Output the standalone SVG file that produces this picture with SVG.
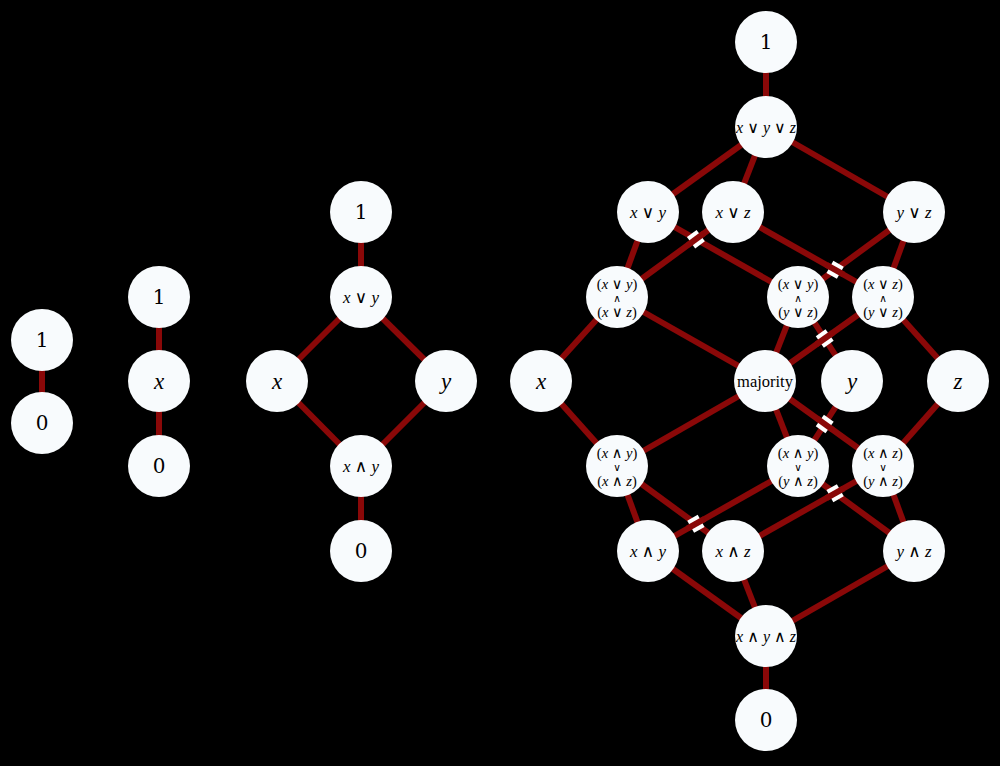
<svg xmlns="http://www.w3.org/2000/svg" width="1000" height="766" viewBox="0 0 1000 766">
<style>
.e line{stroke:#8a0808;stroke-width:6}
.n circle{fill:#f8fbfd}
.t{font-family:"Liberation Serif","DejaVu Serif",serif;fill:#000;text-anchor:middle;dominant-baseline:central}
.big{font-family:"DejaVu Serif",serif;font-size:20px}
.v{font-size:23px;font-style:italic}
.m{font-size:17px}
.m3{font-size:16px}
.s{font-size:14.5px}
.i{font-style:italic}
.o{font-family:"DejaVu Sans",sans-serif;font-style:normal}
.so{font-family:"DejaVu Sans",sans-serif;font-size:10.5px}
.w{stroke:#fff;stroke-width:14}
.r{stroke:#8a0808;stroke-width:6}
</style>
<rect width="1000" height="766" fill="#000"/>
<g class="e" id="connectors">
<line x1="42" y1="340" x2="42" y2="423"/>
<line x1="159" y1="297" x2="159" y2="381"/>
<line x1="159" y1="381" x2="159" y2="466"/>
<line x1="361" y1="212" x2="361" y2="297"/>
<line x1="361" y1="297" x2="277" y2="381"/>
<line x1="361" y1="297" x2="446" y2="381"/>
<line x1="277" y1="381" x2="361" y2="466"/>
<line x1="446" y1="381" x2="361" y2="466"/>
<line x1="361" y1="466" x2="361" y2="551"/>
<line x1="766" y1="42" x2="766" y2="127"/>
<line x1="766" y1="127" x2="648" y2="212"/>
<line x1="766" y1="127" x2="733" y2="212"/>
<line x1="766" y1="127" x2="914" y2="212"/>
<line x1="648" y1="212" x2="617" y2="297"/>
<line x1="648" y1="212" x2="798" y2="297"/>
<line x1="733" y1="212" x2="617" y2="297"/>
<line x1="733" y1="212" x2="883" y2="297"/>
<line x1="914" y1="212" x2="798" y2="297"/>
<line x1="914" y1="212" x2="883" y2="297"/>
<line x1="617" y1="297" x2="541" y2="381"/>
<line x1="617" y1="297" x2="765" y2="381"/>
<line x1="798" y1="297" x2="765" y2="381"/>
<line x1="798" y1="297" x2="852" y2="381"/>
<line x1="883" y1="297" x2="765" y2="381"/>
<line x1="883" y1="297" x2="958" y2="381"/>
<line x1="541" y1="381" x2="617" y2="466"/>
<line x1="765" y1="381" x2="617" y2="466"/>
<line x1="765" y1="381" x2="798" y2="466"/>
<line x1="765" y1="381" x2="883" y2="466"/>
<line x1="852" y1="381" x2="798" y2="466"/>
<line x1="958" y1="381" x2="883" y2="466"/>
<line x1="617" y1="466" x2="648" y2="551"/>
<line x1="617" y1="466" x2="733" y2="551"/>
<line x1="798" y1="466" x2="648" y2="551"/>
<line x1="798" y1="466" x2="914" y2="551"/>
<line x1="883" y1="466" x2="733" y2="551"/>
<line x1="883" y1="466" x2="914" y2="551"/>
<line x1="648" y1="551" x2="766" y2="636"/>
<line x1="733" y1="551" x2="766" y2="636"/>
<line x1="914" y1="551" x2="766" y2="636"/>
<line x1="766" y1="636" x2="766" y2="720"/>
</g>
<g id="crossings">
<g transform="translate(695.9,239.2) rotate(-36.2)"><line class="w" x1="-6" x2="6"/><line class="r" x1="-10" x2="10"/></g>
<g transform="translate(835.1,269.8) rotate(29.5)"><line class="w" x1="-6" x2="6"/><line class="r" x1="-10" x2="10"/></g>
<g transform="translate(824.7,338.5) rotate(-35.4)"><line class="w" x1="-6" x2="6"/><line class="r" x1="-10" x2="10"/></g>
<g transform="translate(824.7,424) rotate(35.8)"><line class="w" x1="-6" x2="6"/><line class="r" x1="-10" x2="10"/></g>
<g transform="translate(695.9,523.8) rotate(-29.5)"><line class="w" x1="-6" x2="6"/><line class="r" x1="-10" x2="10"/></g>
<g transform="translate(835.1,493.2) rotate(-29.5)"><line class="w" x1="-6" x2="6"/><line class="r" x1="-10" x2="10"/></g>
</g>
<g class="n">
<g id="a1"><circle cx="42" cy="340" r="31"/><text class="t big" x="42" y="340">1</text></g>
<g id="a0"><circle cx="42" cy="423" r="31"/><text class="t big" x="42" y="423">0</text></g>
<g id="b1"><circle cx="159" cy="297" r="31"/><text class="t big" x="159" y="297">1</text></g>
<g id="bx"><circle cx="159" cy="381" r="31"/><text class="t v" x="159" y="381">x</text></g>
<g id="b0"><circle cx="159" cy="466" r="31"/><text class="t big" x="159" y="466">0</text></g>
<g id="c1"><circle cx="361" cy="212" r="31"/><text class="t big" x="361" y="212">1</text></g>
<g id="cxory"><circle cx="361" cy="297" r="31"/><text class="t m" x="361" y="297"><tspan class="i">x</tspan> <tspan class="o">∨</tspan> <tspan class="i">y</tspan></text></g>
<g id="cx"><circle cx="277" cy="381" r="31"/><text class="t v" x="277" y="381">x</text></g>
<g id="cy"><circle cx="446" cy="381" r="31"/><text class="t v" x="446" y="381">y</text></g>
<g id="cxandy"><circle cx="361" cy="466" r="31"/><text class="t m" x="361" y="466"><tspan class="i">x</tspan> <tspan class="o">∧</tspan> <tspan class="i">y</tspan></text></g>
<g id="c0"><circle cx="361" cy="551" r="31"/><text class="t big" x="361" y="551">0</text></g>
<g id="d1"><circle cx="766" cy="42" r="31"/><text class="t big" x="766" y="42">1</text></g>
<g id="dxyz_or"><circle cx="766" cy="127" r="31"/><text class="t m3" x="766" y="127"><tspan class="i">x</tspan> <tspan class="o">∨</tspan> <tspan class="i">y</tspan> <tspan class="o">∨</tspan> <tspan class="i">z</tspan></text></g>
<g id="dxory"><circle cx="648" cy="212" r="31"/><text class="t m" x="648" y="212"><tspan class="i">x</tspan> <tspan class="o">∨</tspan> <tspan class="i">y</tspan></text></g>
<g id="dxorz"><circle cx="733" cy="212" r="31"/><text class="t m" x="733" y="212"><tspan class="i">x</tspan> <tspan class="o">∨</tspan> <tspan class="i">z</tspan></text></g>
<g id="dyorz"><circle cx="914" cy="212" r="31"/><text class="t m" x="914" y="212"><tspan class="i">y</tspan> <tspan class="o">∨</tspan> <tspan class="i">z</tspan></text></g>
<g id="dm1"><circle cx="617" cy="297" r="31"/><text class="t s" x="617" y="283.5">(<tspan class="i">x</tspan> <tspan class="o">∨</tspan> <tspan class="i">y</tspan>)</text><text class="t so" x="617" y="297.5">∧</text><text class="t s" x="617" y="311.5">(<tspan class="i">x</tspan> <tspan class="o">∨</tspan> <tspan class="i">z</tspan>)</text></g>
<g id="dm2"><circle cx="798" cy="297" r="31"/><text class="t s" x="798" y="283.5">(<tspan class="i">x</tspan> <tspan class="o">∨</tspan> <tspan class="i">y</tspan>)</text><text class="t so" x="798" y="297.5">∧</text><text class="t s" x="798" y="311.5">(<tspan class="i">y</tspan> <tspan class="o">∨</tspan> <tspan class="i">z</tspan>)</text></g>
<g id="dm3"><circle cx="883" cy="297" r="31"/><text class="t s" x="883" y="283.5">(<tspan class="i">x</tspan> <tspan class="o">∨</tspan> <tspan class="i">z</tspan>)</text><text class="t so" x="883" y="297.5">∧</text><text class="t s" x="883" y="311.5">(<tspan class="i">y</tspan> <tspan class="o">∨</tspan> <tspan class="i">z</tspan>)</text></g>
<g id="dx"><circle cx="541" cy="381" r="31"/><text class="t v" x="541" y="381">x</text></g>
<g id="dmaj"><circle cx="765" cy="381" r="31"/><text class="t" x="765" y="381" font-size="16.5">majority</text></g>
<g id="dy"><circle cx="852" cy="381" r="31"/><text class="t v" x="852" y="381">y</text></g>
<g id="dz"><circle cx="958" cy="381" r="31"/><text class="t v" x="958" y="381">z</text></g>
<g id="dj1"><circle cx="617" cy="466" r="31"/><text class="t s" x="617" y="452.5">(<tspan class="i">x</tspan> <tspan class="o">∧</tspan> <tspan class="i">y</tspan>)</text><text class="t so" x="617" y="466.5">∨</text><text class="t s" x="617" y="480.5">(<tspan class="i">x</tspan> <tspan class="o">∧</tspan> <tspan class="i">z</tspan>)</text></g>
<g id="dj2"><circle cx="798" cy="466" r="31"/><text class="t s" x="798" y="452.5">(<tspan class="i">x</tspan> <tspan class="o">∧</tspan> <tspan class="i">y</tspan>)</text><text class="t so" x="798" y="466.5">∨</text><text class="t s" x="798" y="480.5">(<tspan class="i">y</tspan> <tspan class="o">∧</tspan> <tspan class="i">z</tspan>)</text></g>
<g id="dj3"><circle cx="883" cy="466" r="31"/><text class="t s" x="883" y="452.5">(<tspan class="i">x</tspan> <tspan class="o">∧</tspan> <tspan class="i">z</tspan>)</text><text class="t so" x="883" y="466.5">∨</text><text class="t s" x="883" y="480.5">(<tspan class="i">y</tspan> <tspan class="o">∧</tspan> <tspan class="i">z</tspan>)</text></g>
<g id="dxandy"><circle cx="648" cy="551" r="31"/><text class="t m" x="648" y="551"><tspan class="i">x</tspan> <tspan class="o">∧</tspan> <tspan class="i">y</tspan></text></g>
<g id="dxandz"><circle cx="733" cy="551" r="31"/><text class="t m" x="733" y="551"><tspan class="i">x</tspan> <tspan class="o">∧</tspan> <tspan class="i">z</tspan></text></g>
<g id="dyandz"><circle cx="914" cy="551" r="31"/><text class="t m" x="914" y="551"><tspan class="i">y</tspan> <tspan class="o">∧</tspan> <tspan class="i">z</tspan></text></g>
<g id="dxyz_and"><circle cx="766" cy="636" r="31"/><text class="t m3" x="766" y="636"><tspan class="i">x</tspan> <tspan class="o">∧</tspan> <tspan class="i">y</tspan> <tspan class="o">∧</tspan> <tspan class="i">z</tspan></text></g>
<g id="d0"><circle cx="766" cy="720" r="31"/><text class="t big" x="766" y="720">0</text></g>
</g>
</svg>
